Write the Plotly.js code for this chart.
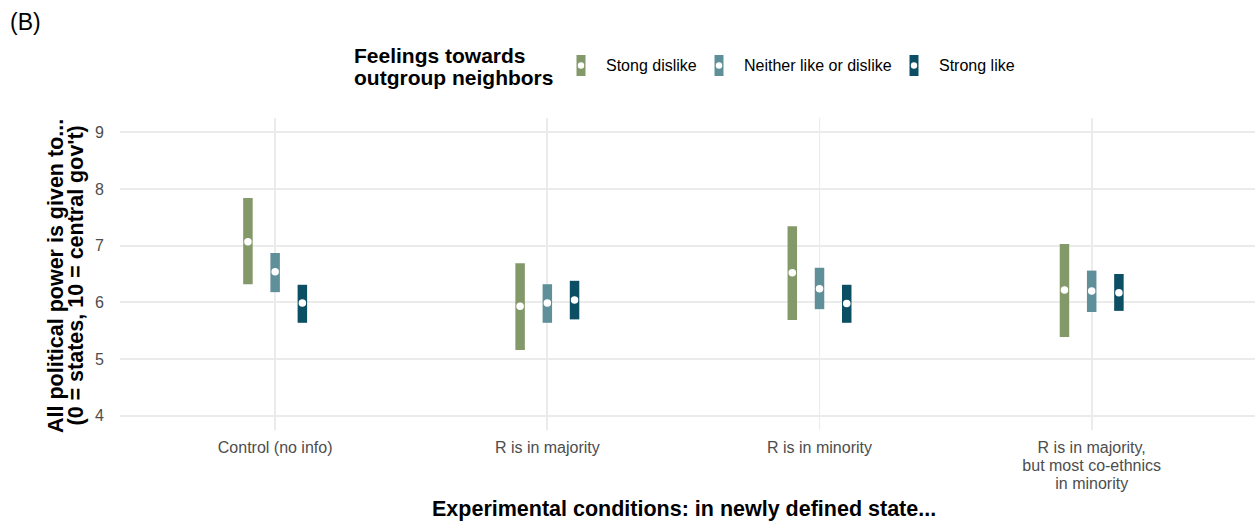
<!DOCTYPE html>
<html>
<head>
<meta charset="utf-8">
<script src="https://cdn.plot.ly/plotly-3.0.1.min.js"></script>
<style>html,body{margin:0;padding:0;background:#fff;}#chart{width:1255px;height:521px;}</style>
</head>
<body>
<div id="chart"></div>
<script>
// ---- data ----
const categories = ["Control (no info)", "R is in majority", "R is in minority", "R is in majority,<br>but most co-ethnics<br>in minority"];
const groupNames = ["Stong dislike", "Neither like or dislike", "Strong like"];
const dislikeEst = [7.07, 5.93, 6.52, 6.22];
const dislikeLo  = [6.32, 5.16, 5.69, 5.39];
const dislikeHi  = [7.84, 6.69, 7.34, 7.03];
const neitherEst = [6.54, 5.99, 6.24, 6.20];
const neitherLo  = [6.18, 5.64, 5.88, 5.83];
const neitherHi  = [6.87, 6.32, 6.61, 6.56];
const strongEst  = [5.99, 6.04, 5.98, 6.17];
const strongLo   = [5.64, 5.70, 5.64, 5.85];
const strongHi   = [6.31, 6.38, 6.31, 6.50];
const yTicks = [4, 5, 6, 7, 8, 9];
const legendTitleLines = ["Feelings towards", "outgroup neighbors"];
const yTitleLines = ["All political power is given to...", "(0 = states, 10 = central gov't)"];
const xTitle = "Experimental conditions: in newly defined state...";

// ---- style ----
const colors = ["#84996a", "#5f9099", "#0c4e63"];
const offsets = [-0.1, 0, 0.1];
const FONT = "Liberation Sans, Arial, Helvetica, sans-serif";

const series = [
  {est: dislikeEst, lo: dislikeLo, hi: dislikeHi},
  {est: neitherEst, lo: neitherLo, hi: neitherHi},
  {est: strongEst, lo: strongLo, hi: strongHi}
];

const traces = series.map((s, g) => ({
  type: "scatter",
  mode: "markers",
  name: groupNames[g],
  x: categories.map((c, i) => i + offsets[g]),
  y: s.est,
  marker: {color: "#ffffff", size: 7.5, line: {width: 0}},
  error_y: {
    type: "data", symmetric: false,
    array: s.hi.map((h, i) => h - s.est[i]),
    arrayminus: s.lo.map((l, i) => s.est[i] - l),
    color: colors[g], thickness: 9.5, width: 0
  },
  showlegend: false,
  hoverinfo: "skip"
}));

// plot area in pixels
const L = 120, R = 1255, T = 118, B = 430;
const px = x => (x - L) / (R - L);
const py = y => (B - y) / (B - T);

const shapes = [];
const annotations = [];
// legend title
legendTitleLines.forEach((t, k) => annotations.push({
  xref: "paper", yref: "paper", x: px(352), y: py(55 + k * 22), xanchor: "left", yanchor: "middle",
  text: "<b>" + t + "</b>", showarrow: false, align: "left",
  font: {family: FONT, size: 21, color: "#000"}
}));
const legendX = [581, 719, 914];
groupNames.forEach((n, g) => {
  shapes.push({type: "rect", xref: "paper", yref: "paper",
    x0: px(legendX[g] - 4.5), x1: px(legendX[g] + 4.5), y0: py(76), y1: py(55),
    fillcolor: colors[g], line: {width: 0}});
  shapes.push({type: "circle", xref: "paper", yref: "paper",
    x0: px(legendX[g] - 3.2), x1: px(legendX[g] + 3.2), y0: py(68.7), y1: py(62.3),
    fillcolor: "#ffffff", line: {width: 0}});
  annotations.push({
    xref: "paper", yref: "paper", x: px(legendX[g] + 23), y: py(66), xanchor: "left", yanchor: "middle",
    text: n, showarrow: false, font: {family: FONT, size: 16, color: "#000"}
  });
});
// y title (two lines)
yTitleLines.forEach((t, k) => annotations.push({
  xref: "paper", yref: "paper", x: px(56 + k * 19.5), y: py(276), xanchor: "center", yanchor: "middle",
  text: "<b>" + t + "</b>", showarrow: false, textangle: -90,
  font: {family: FONT, size: 21.5, color: "#000"}
}));
// x title
annotations.push({
  xref: "paper", yref: "paper", x: px(684), y: py(509), xanchor: "center", yanchor: "middle",
  text: "<b>" + xTitle + "</b>", showarrow: false,
  font: {family: FONT, size: 21.5, color: "#000"}
});

const layout = {
  width: 1255, height: 521,
  margin: {l: L, r: 1255 - R, t: T, b: 521 - B, pad: 0},
  paper_bgcolor: "#ffffff", plot_bgcolor: "#ffffff",
  font: {family: FONT, color: "#000"},
  title: {text: "(B)", x: 10 / 1255, xref: "container", xanchor: "left", y: 1 - 22 / 521, yref: "container", yanchor: "middle",
    font: {family: FONT, size: 23, color: "#000"}},
  showlegend: false,
  xaxis: {
    range: [-0.57, 3.6], tickvals: categories.map((c, i) => i), ticktext: categories,
    showgrid: true, gridcolor: "#ebebeb", gridwidth: 1.8, zeroline: false, showline: false,
    ticks: "outside", ticklen: 3, tickcolor: "rgba(0,0,0,0)",
    tickfont: {family: FONT, size: 16, color: "#4d4d4d"},
    automargin: false, fixedrange: true
  },
  yaxis: {
    range: [3.75, 9.25], tickvals: yTicks,
    showgrid: true, gridcolor: "#ebebeb", gridwidth: 1.8, zeroline: false, showline: false,
    ticks: "outside", ticklen: 12, tickcolor: "rgba(0,0,0,0)",
    tickfont: {family: FONT, size: 16, color: "#4d4d4d"},
    automargin: false, fixedrange: true
  },
  shapes: shapes,
  annotations: annotations
};

Plotly.newPlot("chart", traces, layout, {displayModeBar: false, staticPlot: true}).then(() => {
  // tighter line spacing for multi-line tick labels (like ggplot's lineheight 0.9)
  document.querySelectorAll(".xtick text tspan.line").forEach(t => {
    const dy = parseFloat(t.getAttribute("dy"));
    if (dy && isFinite(dy)) t.setAttribute("dy", (dy * 1.13 / 1.3).toFixed(3) + "em");
  });
});
</script>
</body>
</html>
